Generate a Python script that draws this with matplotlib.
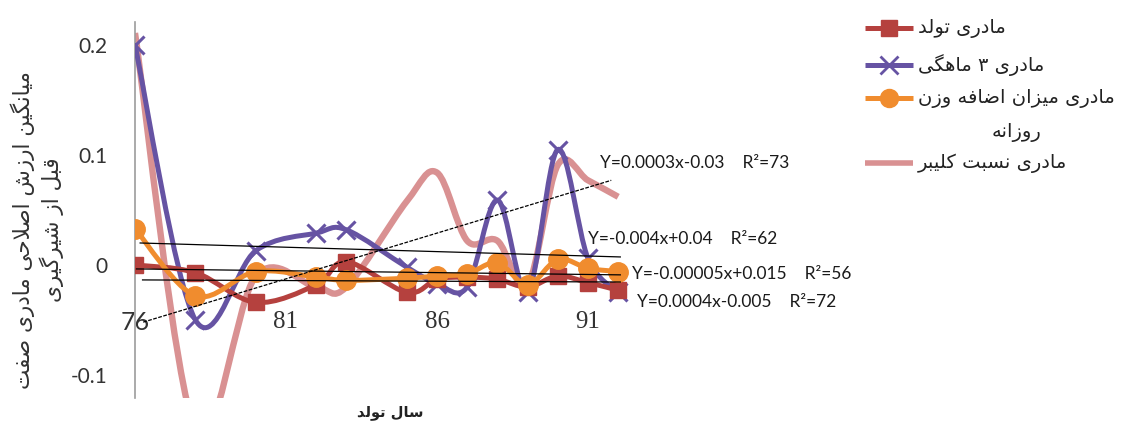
import matplotlib
matplotlib.use("Agg")
import matplotlib.pyplot as plt
from matplotlib.path import Path
from matplotlib.patches import PathPatch
from matplotlib.lines import Line2D
import numpy as np

# ---------------- data ----------------
years = [76, 78, 80, 82, 83, 85, 86, 87, 88, 89, 90, 91, 92]
birth = [0.0, -0.007, -0.034, -0.018, 0.003, -0.025, -0.013, -0.011, -0.013, -0.020, -0.010, -0.016, -0.023]
month3 = [0.200, -0.050, 0.013, 0.029, 0.032, -0.002, -0.017, -0.020, 0.059, -0.025, 0.105, 0.006, -0.025]
daily_gain = [0.033, -0.028, -0.006, -0.011, -0.014, -0.012, -0.010, -0.008, 0.002, -0.018, 0.005, -0.003, -0.006]
kleiber = [0.211, -0.150, -0.010, -0.020, -0.020, 0.058, 0.084, 0.022, 0.022, -0.018, 0.091, 0.077, 0.062]

xtick_vals = [76, 81, 86, 91]
ytick_vals = [-0.1, 0, 0.1, 0.2]
ytick_labels = ["-0.1", "0", "0.1", "0.2"]

trend_x_start = [76.27, 76.17, 76.05, 76.25]
trend_x_end = [91.77, 92.07, 92.07, 92.07]
trend_y_start = [-0.052, 0.020, -0.0036, -0.0136]
trend_y_end = [0.077, 0.0073, -0.009, -0.0155]
trend_labels = ["Y=0.0003x-0.03    R\u00b2=73",
                "Y=-0.004x+0.04    R\u00b2=62",
                "Y=-0.00005x+0.015    R\u00b2=56",
                "Y=0.0004x-0.005    R\u00b2=72"]

legend_labels = ["مادری تولد", "مادری ۳ ماهگی", "مادری میزان اضافه وزن\nروزانه", "مادری نسبت کلیبر"]
ylabel_text = "میانگین ارزش اصلاحی مادری صفت\nقبل از شیرگیری"
xlabel_text = "سال تولد"

# ---------------- simple Arabic/Persian shaping ----------------
FORMS = {
    'ا': ('\uFE8D', '\uFE8E', None, None),
    'ب': ('\uFE8F', '\uFE90', '\uFE91', '\uFE92'),
    'ت': ('\uFE95', '\uFE96', '\uFE97', '\uFE98'),
    'ح': ('\uFEA1', '\uFEA2', '\uFEA3', '\uFEA4'),
    'د': ('\uFEA9', '\uFEAA', None, None),
    'ر': ('\uFEAD', '\uFEAE', None, None),
    'ز': ('\uFEAF', '\uFEB0', None, None),
    'س': ('\uFEB1', '\uFEB2', '\uFEB3', '\uFEB4'),
    'ش': ('\uFEB5', '\uFEB6', '\uFEB7', '\uFEB8'),
    'ص': ('\uFEB9', '\uFEBA', '\uFEBB', '\uFEBC'),
    'ض': ('\uFEBD', '\uFEBE', '\uFEBF', '\uFEC0'),
    'ف': ('\uFED1', '\uFED2', '\uFED3', '\uFED4'),
    'ق': ('\uFED5', '\uFED6', '\uFED7', '\uFED8'),
    'ل': ('\uFEDD', '\uFEDE', '\uFEDF', '\uFEE0'),
    'م': ('\uFEE1', '\uFEE2', '\uFEE3', '\uFEE4'),
    'ن': ('\uFEE5', '\uFEE6', '\uFEE7', '\uFEE8'),
    'ه': ('\uFEE9', '\uFEEA', '\uFEEB', '\uFEEC'),
    'و': ('\uFEED', '\uFEEE', None, None),
    'ی': ('\uFBFC', '\uFBFD', '\uFBFE', '\uFBFF'),
    'ک': ('\uFB8E', '\uFB8F', '\uFB90', '\uFB91'),
    'گ': ('\uFB92', '\uFB93', '\uFB94', '\uFB95'),
}


def _joins_next(c):
    return c in FORMS and FORMS[c][2] is not None


def shape_line(s):
    out = []
    n = len(s)
    i = 0
    while i < n:
        c = s[i]
        if c not in FORMS:
            out.append(c)
            i += 1
            continue
        prev = s[i - 1] if i > 0 else None
        cp = prev is not None and _joins_next(prev)
        if c == 'ل' and i + 1 < n and s[i + 1] == 'ا':
            out.append('\uFEFC' if cp else '\uFEFB')
            i += 2
            continue
        nxt = s[i + 1] if i + 1 < n else None
        cn = _joins_next(c) and nxt is not None and nxt in FORMS
        iso, fin, ini, med = FORMS[c]
        if cp and cn:
            f = med
        elif cp:
            f = fin
        elif cn:
            f = ini
        else:
            f = iso
        out.append(f)
        i += 1
    return ''.join(reversed(out))


def shape(s):
    return '\n'.join(shape_line(l) for l in s.split('\n'))


# ---------------- smooth (Excel-like) bezier path ----------------
def smooth_path(x, y):
    P = np.column_stack([np.asarray(x, float), np.asarray(y, float)])
    n = len(P)
    verts = [tuple(P[0])]
    codes = [Path.MOVETO]
    for i in range(n - 1):
        p0 = P[i - 1] if i > 0 else P[i]
        p1 = P[i]
        p2 = P[i + 1]
        p3 = P[i + 2] if i + 2 < n else P[i + 1]
        c1 = p1 + (p2 - p0) / 6.0
        c2 = p2 - (p3 - p1) / 6.0
        verts += [tuple(c1), tuple(c2), tuple(p2)]
        codes += [Path.CURVE4] * 3
    return Path(verts, codes)


W, H = 1124, 430
fig = plt.figure(figsize=(W / 100, H / 100), dpi=100)


def fx(px):
    return px / W


def fy(py):
    return 1 - py / H


ax_left, ax_right, ax_top, ax_bot = 135, 645, 22, 398
ax = fig.add_axes([fx(ax_left), fy(ax_bot), (ax_right - ax_left) / W, (ax_bot - ax_top) / H])
ax.set_xlim(76, 76 + (ax_right - ax_left) / 30.2)
ax.set_ylim(-0.121, 0.221)

c_red = '#B5413E'
c_purple = '#6653A3'
c_orange = '#F08C2E'
c_pink = '#D99192'

series = [
    (kleiber, c_pink, 4.6, None, 2),
    (month3, c_purple, 3.6, 'x', 3),
    (birth, c_red, 3.6, 's', 4),
    (daily_gain, c_orange, 3.6, 'o', 5),
]
for vals, col, lw, mk, z in series:
    patch = PathPatch(smooth_path(years, vals), facecolor='none', edgecolor=col,
                      lw=lw, zorder=z, capstyle='butt', joinstyle='round')
    ax.add_patch(patch)
    if mk == 's':
        ax.plot(years, vals, ls='none', marker='s', ms=12, color=col, zorder=z + 0.1)
    elif mk == 'x':
        ax.plot(years, vals, ls='none', marker='x', ms=13, mew=2.2, color=col, zorder=z + 0.1)
    elif mk == 'o':
        ax.plot(years, vals, ls='none', marker='o', ms=14, color=col, zorder=z + 0.1)

# trend lines
for k in range(4):
    ls = (0, (3, 1.2)) if k == 0 else '-'
    ax.plot([trend_x_start[k], trend_x_end[k]], [trend_y_start[k], trend_y_end[k]],
            color='black', lw=0.9, ls=ls, zorder=7)

eq_pos = [(600, 163), (588, 239), (632, 274), (637, 302)]
for lab, (px, py) in zip(trend_labels, eq_pos):
    fig.text(fx(px), fy(py), lab, ha='left', va='center', fontsize=12.5,
             family='Lato', color='#1a1a1a')

# axes styling
for s in ['top', 'right']:
    ax.spines[s].set_visible(False)
ax.spines['left'].set_color('#9C9C9C')
ax.spines['left'].set_linewidth(1.2)
ax.spines['left'].set_position(('data', 76))
ax.spines['bottom'].set_position(('data', -0.041))
ax.spines['bottom'].set_color('none')
ax.set_xticks(xtick_vals)
ax.set_xticklabels([str(v) for v in xtick_vals])
ax.set_yticks(ytick_vals)
ax.set_yticklabels(ytick_labels)
ax.tick_params(axis='both', length=0)
ax.tick_params(axis='y', pad=20, labelsize=15, labelcolor='#333333')
ax.tick_params(axis='x', pad=1, labelsize=18, labelcolor='#333333')
for t in ax.get_yticklabels():
    t.set_family('Lato')
for i, t in enumerate(ax.get_xticklabels()):
    t.set_family('Lato' if i == 0 else 'Liberation Serif')
ax.patch.set_visible(False)

# axis titles
fig.text(fx(37), fy(230), shape(ylabel_text), rotation=90, ha='center', va='center',
         multialignment='center', fontsize=15.5, family='DejaVu Sans', color='#333333',
         linespacing=1.25)
fig.text(fx(390), fy(413), shape(xlabel_text), ha='center', va='center',
         fontsize=10.5, family='DejaVu Sans', color='#222222', fontweight='bold')

# legend (manual)
leg_items = [
    (legend_labels[0], c_red, 's', dict(ms=12)),
    (legend_labels[1], c_purple, 'x', dict(ms=13, mew=2.0)),
    (legend_labels[2], c_orange, 'o', dict(ms=13)),
    (legend_labels[3], c_pink, None, dict()),
]
row_y = [28, 65, 98, 163]
x0, x1, xt = 865, 913, 918
for (lab, col, mk, kw), ry in zip(leg_items, row_y):
    fig.add_artist(Line2D([fx(x0), fx(x1)], [fy(ry), fy(ry)], transform=fig.transFigure,
                          color=col, lw=3.6 if mk else 4.0, solid_capstyle='butt'))
    if mk:
        mkw = dict(kw)
        fig.add_artist(Line2D([fx((x0 + x1) / 2)], [fy(ry)], transform=fig.transFigure,
                              color=col, marker=mk, ls='none', **mkw))
    lines = lab.split('\n')
    if len(lines) == 1:
        fig.text(fx(xt), fy(ry), shape(lab), ha='left', va='center', fontsize=14,
                 family='DejaVu Sans', color='#222222')
    else:
        t0 = fig.text(fx(xt), fy(ry), shape(lines[0]), ha='left', va='center', fontsize=14,
                      family='DejaVu Sans', color='#222222')
        fig.canvas.draw()
        bb = t0.get_window_extent()
        cx = (bb.x0 + bb.x1) / 2 / fig.dpi / fig.get_figwidth()
        fig.text(cx, fy(ry + 34), shape(lines[1]), ha='center', va='center', fontsize=14,
                 family='DejaVu Sans', color='#222222')

fig.savefig('out.png', dpi=100)
